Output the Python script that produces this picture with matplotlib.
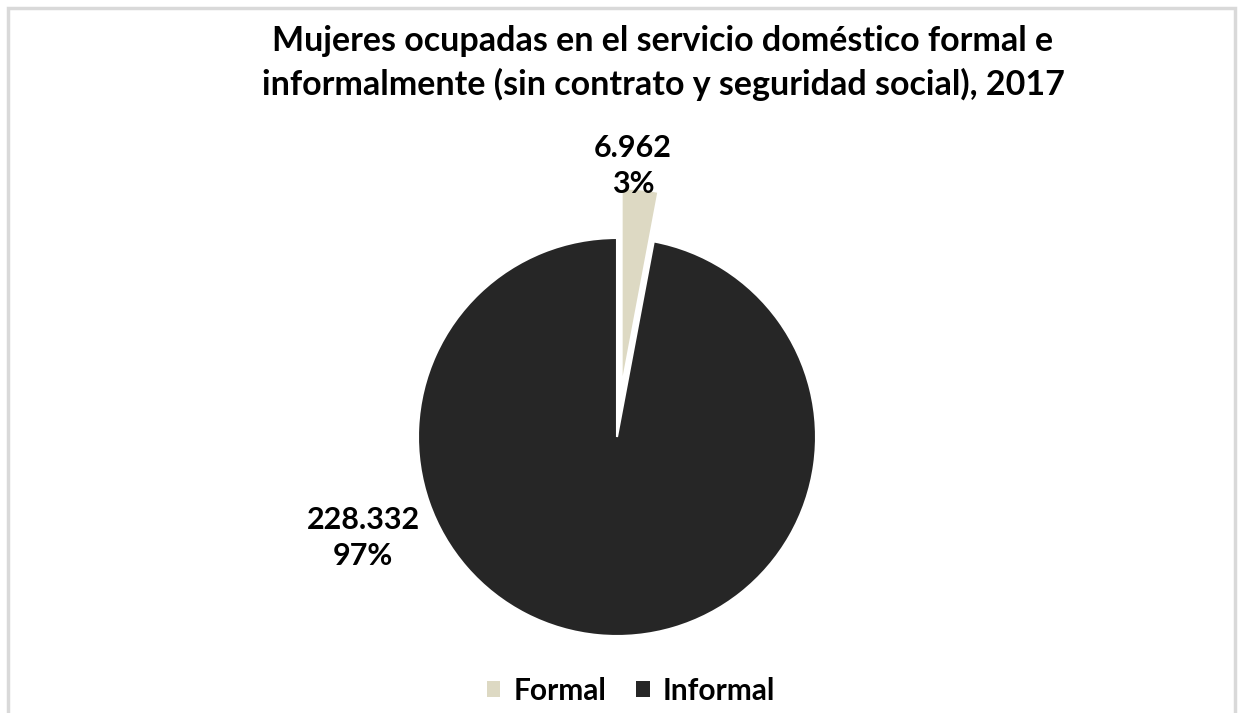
import matplotlib
matplotlib.use("Agg")
import matplotlib.pyplot as plt
from matplotlib.patches import Rectangle

categories = ["Formal", "Informal"]
values = [6962, 228332]
labels = ["6.962\n3%", "228.332\n97%"]
colors = ["#DDD9C3", "#262626"]
title = "Mujeres ocupadas en el servicio doméstico formal e\ninformalmente (sin contrato y seguridad social), 2017"

plt.rcParams['font.family'] = ['Lato', 'DejaVu Sans']

W, H = 1239, 713
fig = plt.figure(figsize=(W/100, H/100), dpi=100)

# frame
fig.patches.append(Rectangle((8/W, -0.05), (1235-8)/W, 1.05 - 8/H, transform=fig.transFigure,
                             fill=False, edgecolor="#D9D9D9", linewidth=2.5))

cx, cy, R = 617, 437, 199
half = 280
ax = fig.add_axes([(cx-half)/W, (H-cy-half)/H, 2*half/W, 2*half/H])
wedges, _ = ax.pie(values, colors=colors, startangle=90, counterclock=False,
                   explode=[0.25, 0], radius=1,
                   wedgeprops=dict(edgecolor="white", linewidth=1.5, clip_on=False))
lim = half / R
ax.set_xlim(-lim, lim)
ax.set_ylim(-lim, lim)
ax.set_aspect("equal")
ax.axis("off")

def px(x, y):
    return ((x - cx) / R, (cy - y) / R)

ax.text(*px(633, 166), labels[0], ha="center", va="center", fontsize=22,
        fontweight="bold", linespacing=1.35, clip_on=False)
ax.text(*px(363, 538), labels[1], ha="center", va="center", fontsize=22,
        fontweight="bold", linespacing=1.35, clip_on=False)

fig.text(663/W, 1 - 63/H, title, ha="center", va="center", fontsize=24.5,
         fontweight="bold", linespacing=1.42)

leg = fig.legend(wedges, categories, loc="center", bbox_to_anchor=(631/W, 1 - 691/H),
                 ncol=2, frameon=False, prop=dict(size=21.5, weight="bold"),
                 handlelength=0.45, handleheight=0.45, handletextpad=0.45, columnspacing=1.0)
for h in leg.legend_handles:
    h.set_edgecolor("none")

fig.savefig("out.png", dpi=100)
